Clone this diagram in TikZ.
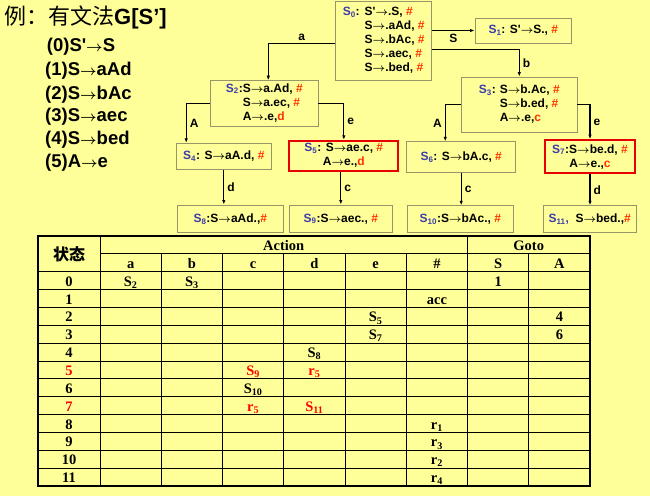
\documentclass[tikz,border=0pt]{standalone}
\usepackage{fontspec}
\setmainfont{Liberation Serif}
\newfontfamily\arial{Liberation Sans}
\newfontfamily\cjk{Noto Sans CJK SC}
\usepackage{xcolor}
\definecolor{bgyellow}{RGB}{255,255,153}
\definecolor{boxline}{RGB}{150,150,105}
\definecolor{stateblue}{RGB}{60,60,170}
\definecolor{hashred}{RGB}{255,51,0}
\definecolor{boxred}{RGB}{230,0,0}
\definecolor{tabred}{RGB}{255,0,0}
\usepackage{tikz}
\usetikzlibrary{arrows.meta, calc, positioning}
\newcommand{\gto}[1][11]{{\fontsize{#1}{#1}\selectfont\boldmath$\rightarrow$}}
\newcommand{\hs}{\textcolor{hashred}{\#}}
\newcommand{\sn}[1]{\textcolor{stateblue}{S\textsubscript{#1}}}
\newcommand{\prm}{\textquotesingle}
\begin{document}
\begin{tikzpicture}[x=1pt, y=-1pt,
    itemset/.style={draw=boxline, fill=bgyellow, line width=0.9pt, inner sep=0pt,
        align=center, font=\arial\bfseries\fontsize{12}{14}\selectfont},
    conflict/.style={itemset, draw=boxred, line width=1.8pt},
    goto/.style={-{Latex[length=4.5pt,width=3.5pt]}, line width=1.1pt},
    golabel/.style={font=\arial\bfseries\fontsize{12}{13}\selectfont, inner sep=3pt},
    prod/.style={anchor=west, inner sep=0pt, font=\arial\bfseries\fontsize{18.5}{20}\selectfont},
    tabline/.style={line width=0.8pt},
    entry/.style={anchor=base, inner sep=0pt, font=\bfseries\fontsize{14.5}{16}\selectfont}]

        % Fond
        \fill[bgyellow] (0,0) rectangle (650,496);

        % Titre et grammaire
        \node[anchor=west, inner sep=0pt] (title) at (4,17)
            {{\cjk\fontsize{22}{22}\selectfont 例：有文法}{\arial\bfseries\fontsize{22}{22}\selectfont G[S’]}};
        \node[prod] (p0) at (46.7,47) {(0)S\prm\gto[14]S};
        \node[prod] (p1) at (45,71) {(1)S\gto[14]aAd};
        \node[prod] (p2) at (45,94.3) {(2)S\gto[14]bAc};
        \node[prod] (p3) at (45,116.7) {(3)S\gto[14]aec};
        \node[prod] (p4) at (45,139.3) {(4)S\gto[14]bed};
        \node[prod] (p5) at (45,162.3) {(5)A\gto[14]e};

        % Etats LR(1)
        \node[itemset, minimum width=96pt, minimum height=78.5pt] (s0) at (383.7,40.8) {%
            \begin{tabular}{@{}l@{\hspace{5pt}}l@{}}
                \sn{0}: & S\prm\gto.S, \hs\\
                & S\gto.aAd, \hs\\
                & S\gto.bAc, \hs\\
                & S\gto.aec, \hs\\
                & S\gto.bed, \hs
            \end{tabular}};
        \node[itemset, minimum width=96.7pt, minimum height=25pt] (s1) at (523.3,30.5) {\sn{1}: S\prm\gto S., \hs};
        \node[itemset, minimum width=107.3pt, minimum height=45.3pt] (s2) at (264.3,103.3) {%
            \begin{tabular}{@{}l@{}l@{}}
                \sn{2}: & S\gto a.Ad, \hs\\
                & S\gto a.ec, \hs\\
                & A\gto.e,\textcolor{hashred}{d}
            \end{tabular}};
        \node[itemset, minimum width=115.3pt, minimum height=55pt] (s3) at (519.3,104.5) {%
            \begin{tabular}{@{}l@{\hspace{4pt}}l@{}}
                \sn{3}: & S\gto b.Ac, \hs\\
                & S\gto b.ed, \hs\\
                & A\gto.e,\textcolor{hashred}{c}
            \end{tabular}};
        \node[itemset, minimum width=94.3pt, minimum height=26pt] (s4) at (223.8,156.3) {\sn{4}: S\gto aA.d, \hs};
        \node[conflict, minimum width=109pt, minimum height=30pt] (s5) at (343.8,155.7)
            {\sn{5}: S\gto ae.c, \hs\\ A\gto e.,\textcolor{hashred}{d}};
        \node[itemset, minimum width=109pt, minimum height=30.6pt] (s6) at (461.2,157) {\sn{6}: S\gto bA.c, \hs};
        \node[conflict, minimum width=90pt, minimum height=33.3pt] (s7) at (590,156.7)
            {\sn{7}:S\gto be.d, \hs\\ A\gto e.,\textcolor{hashred}{c}};
        \node[itemset, minimum width=106pt, minimum height=27.7pt] (s8) at (230.3,218.8) {\sn{8}:S\gto aAd.,\hs};
        \node[itemset, minimum width=103.7pt, minimum height=27.7pt] (s9) at (340.8,218.8) {\sn{9}:S\gto aec., \hs};
        \node[itemset, minimum width=106pt, minimum height=27pt] (s10) at (460.3,219.2) {\sn{10}:S\gto bAc., \hs};
        \node[itemset, minimum width=92.7pt, minimum height=27pt] (s11) at (589.7,219.2)
            {\textcolor{stateblue}{S\textsubscript{11},}\ \ S\gto bed.,\hs};

        % Transitions
        \draw[goto] ($(s0.west)+(0,3)$) -| ($(s2.north)+(4,0)$) node[golabel, pos=0.25, above] {a};
        \draw[goto] (s1.west -| s0.east) -- (s1.west) node[golabel, midway, below] {S};
        \draw[goto] ($(s0.east)+(0,9)$) -| (s3.north) node[golabel, pos=0.75, right] {b};
        \draw[goto] (s2.west) -| ($(s4.north west)+(10,0)$) node[golabel, pos=0.75, right] {A};
        \draw[goto] (s2.east) -| (s5.north) node[golabel, pos=0.75, right] {e};
        \draw[goto] (s3.west) -| ($(s6.north west)+(39,0)$) node[golabel, pos=0.75, left] {A};
        \draw[goto] (s3.east) -| (s7.north) node[golabel, pos=0.75, right] {e};
        \draw[goto] (s4.south) -- (s4.south |- s8.north) node[golabel, midway, right] {d};
        \draw[goto] (s9.north |- s5.south) -- (s9.north) node[golabel, midway, right] {c};
        \draw[goto] (s6.south) -- (s6.south |- s10.north) node[golabel, midway, right] {c};
        \draw[goto] (s7.south) -- (s7.south |- s11.north) node[golabel, midway, right] {d};

        % Table d'analyse
        \foreach \k in {2,...,13}
            \draw[tabline] (38,{236+17.86*\k}) -- (590,{236+17.86*\k});
        \draw[tabline] (100,253.86) -- (590,253.86);
        \draw[tabline] (100,236) -- (100,486);
        \draw[tabline] (467.5,236) -- (467.5,486);
        \foreach \j in {1,2,3,4,5,7}
            \draw[tabline] ({100+61.25*\j},253.86) -- ({100+61.25*\j},486);
        \draw[line width=1.8pt] (38,236) rectangle (590,486);

        \node[font=\cjk\bfseries\fontsize{16}{16}\selectfont, inner sep=0pt] (hstate) at (69,254) {状态};
        \node[entry] (haction) at (283.75,250.4) {Action};
        \node[entry] (hgoto) at (528.75,250.4) {Goto};
        \foreach \t [count=\j] in {a,b,c,d,e,\#,S,A}
            \node[entry] (h\j) at ({100+61.25*(\j-0.5)},268.3) {\t};
        \foreach \r/\c in {0/black,1/black,2/black,3/black,4/black,5/tabred,
                6/black,7/tabred,8/black,9/black,10/black,11/black}
            \node[entry, text=\c] (n\r) at (69,{286.15+17.86*\r}) {\r};
        \foreach \r/\j/\c/\t in {0/1/black/S\textsubscript{2}, 0/2/black/S\textsubscript{3}, 0/7/black/1,
                1/6/black/acc, 2/5/black/S\textsubscript{5}, 2/8/black/4,
                3/5/black/S\textsubscript{7}, 3/8/black/6, 4/4/black/S\textsubscript{8},
                5/3/tabred/S\textsubscript{9}, 5/4/tabred/r\textsubscript{5},
                6/3/black/S\textsubscript{10}, 7/3/tabred/r\textsubscript{5}, 7/4/tabred/S\textsubscript{11},
                8/6/black/r\textsubscript{1}, 9/6/black/r\textsubscript{3},
                10/6/black/r\textsubscript{2}, 11/6/black/r\textsubscript{4}}
            \node[entry, text=\c] (e\r-\j) at ({100+61.25*(\j-0.5)},{286.15+17.86*\r}) {\t};
    \end{tikzpicture}
\end{document}
